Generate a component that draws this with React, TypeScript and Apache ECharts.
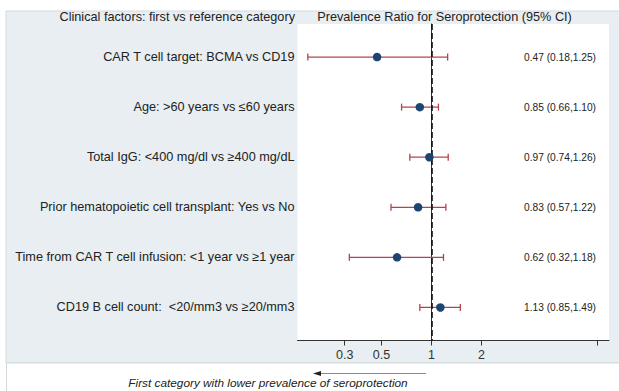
import React, { useEffect, useRef } from "react";
import * as echarts from "echarts";

const factors = [
  "CAR T cell target: BCMA vs CD19",
  "Age: >60 years vs ≤60 years",
  "Total IgG: <400 mg/dl vs ≥400 mg/dL",
  "Prior hematopoietic cell transplant: Yes vs No",
  "Time from CAR T cell infusion: <1 year vs ≥1 year",
  "CD19 B cell count:  <20/mm3 vs ≥20/mm3",
];
const ratio = [0.47, 0.85, 0.97, 0.83, 0.62, 1.13];
const lower = [0.18, 0.66, 0.74, 0.57, 0.32, 0.85];
const upper = [1.25, 1.1, 1.26, 1.22, 1.18, 1.49];
const tickValues = [0.3, 0.5, 1, 2, 10];
const tickLabels = ["0.3", "0.5", "1", "2", ""];
const xRange = [0.156, 11.7];
const refValue = 1;

const FONT = "'Liberation Sans', Arial, sans-serif";

export default function App() {
  const ref = useRef<HTMLDivElement>(null);
  useEffect(() => {
    document.body.style.margin = "0";
    const chart = echarts.init(ref.current!, null, { renderer: "svg" });
    const rows = factors.map((_, i) => i + 1);
    const lg = (v: number) => Math.log10(v);
    const estLabels = ratio.map(
      (r, i) => `${r.toFixed(2)} (${lower[i].toFixed(2)},${upper[i].toFixed(2)})`
    );
    const findIdx = (v: number) => rows.findIndex((r) => Math.abs(r - v) < 1e-6);
    const option: any = {
      animation: false,
      backgroundColor: "#ffffff",
      textStyle: { fontFamily: FONT },
      graphic: [
        {
          type: "rect",
          z: -10,
          shape: { x: 6, y: 11, width: 620, height: 352 },
          style: { fill: "#e8eef1", stroke: "#d3dbdf", lineWidth: 1 },
          silent: true,
        },
        {
          type: "rect",
          z: -10,
          shape: { x: 6.5, y: 363, width: 620, height: 40 },
          style: { fill: "#ffffff", stroke: "#d3dbdf", lineWidth: 1 },
          silent: true,
        },
        {
          type: "text",
          x: 295,
          y: 17,
          style: {
            text: "Clinical factors: first vs reference category",
            fontSize: 12.7,
            fontFamily: FONT,
            fill: "#222",
            align: "right",
            verticalAlign: "middle",
          },
        },
        {
          type: "text",
          x: 444.5,
          y: 17,
          style: {
            text: "Prevalence Ratio for Seroprotection (95% CI)",
            fontSize: 12.7,
            fontFamily: FONT,
            fill: "#222",
            align: "center",
            verticalAlign: "middle",
          },
        },
        {
          type: "line",
          shape: { x1: 320, y1: 373.5, x2: 426, y2: 373.5 },
          style: { stroke: "#8a8a8a", lineWidth: 1.2 },
        },
        {
          type: "polygon",
          shape: { points: [[313, 373.5], [321, 371], [321, 376]] },
          style: { fill: "#222" },
        },
        {
          type: "text",
          x: 268,
          y: 383,
          style: {
            text: "First category with lower prevalence of seroprotection",
            fontSize: 11.8,
            fontStyle: "italic",
            fontFamily: FONT,
            fill: "#222",
            align: "center",
            verticalAlign: "middle",
          },
        },
      ],
      grid: {
        left: 297.5,
        top: 24,
        width: 311.5,
        height: 316.5,
        show: true,
        backgroundColor: "#ffffff",
        borderWidth: 0,
      },
      xAxis: {
        type: "value",
        min: lg(xRange[0]),
        max: lg(xRange[1]),
        axisLine: { show: true, lineStyle: { color: "#333", width: 1 } },
        axisTick: {
          show: true,
          length: 5,
          customValues: tickValues.map(lg),
          lineStyle: { color: "#333" },
        },
        axisLabel: {
          customValues: tickValues.map(lg),
          formatter: (v: number) => {
            const i = tickValues.findIndex((t) => Math.abs(lg(t) - v) < 1e-6);
            return i >= 0 ? tickLabels[i] : "";
          },
          fontSize: 12.5,
          color: "#333",
          margin: 8,
          fontFamily: FONT,
        },
        splitLine: { show: false },
      },
      yAxis: [
        {
          type: "value",
          inverse: true,
          min: 0.34,
          max: 6.66,
          axisLine: { show: true, lineStyle: { color: "#333", width: 1 } },
          axisTick: { show: false },
          splitLine: { show: false },
          axisLabel: {
            customValues: rows,
            formatter: (v: number) => {
              const i = findIdx(v);
              return i >= 0 ? factors[i] : "";
            },
            fontSize: 12.7,
            color: "#222",
            margin: 3,
            fontFamily: FONT,
          },
        },
        {
          type: "value",
          position: "right",
          inverse: true,
          min: 0.34,
          max: 6.66,
          axisLine: { show: false },
          axisTick: { show: false },
          splitLine: { show: false },
          axisLabel: {
            inside: true,
            customValues: rows,
            formatter: (v: number) => {
              const i = findIdx(v);
              return i >= 0 ? estLabels[i] : "";
            },
            fontSize: 10.2,
            color: "#222",
            margin: 13,
            fontFamily: FONT,
          },
        },
      ],
      series: [
        {
          type: "custom",
          z: 2,
          data: rows.map((r, i) => [lg(lower[i]), lg(upper[i]), r]),
          encode: { x: [0, 1], y: 2 },
          renderItem: (params: any, api: any) => {
            const p1 = api.coord([api.value(0), api.value(2)]);
            const p2 = api.coord([api.value(1), api.value(2)]);
            const h = 3.5;
            const st = { stroke: "#b3444f", lineWidth: 1.3 };
            return {
              type: "group",
              children: [
                { type: "line", shape: { x1: p1[0], y1: p1[1], x2: p2[0], y2: p2[1] }, style: st },
                { type: "line", shape: { x1: p1[0], y1: p1[1] - h, x2: p1[0], y2: p1[1] + h }, style: st },
                { type: "line", shape: { x1: p2[0], y1: p2[1] - h, x2: p2[0], y2: p2[1] + h }, style: st },
              ],
            };
          },
          markLine: {
            silent: true,
            symbol: "none",
            label: { show: false },
            lineStyle: { color: "#111", type: [6, 3], width: 1.6 },
            data: [{ xAxis: lg(refValue) }],
          },
        },
        {
          type: "scatter",
          z: 5,
          symbol: "circle",
          symbolSize: 8.5,
          itemStyle: { color: "#1b4674", opacity: 1 },
          data: rows.map((r, i) => [lg(ratio[i]), r]),
        },
      ],
    };
    chart.setOption(option);
    return () => chart.dispose();
  }, []);
  return (
    <div
      ref={ref}
      style={{ position: "absolute", left: 0, top: 0, width: 619, height: 391 }}
    />
  );
}
